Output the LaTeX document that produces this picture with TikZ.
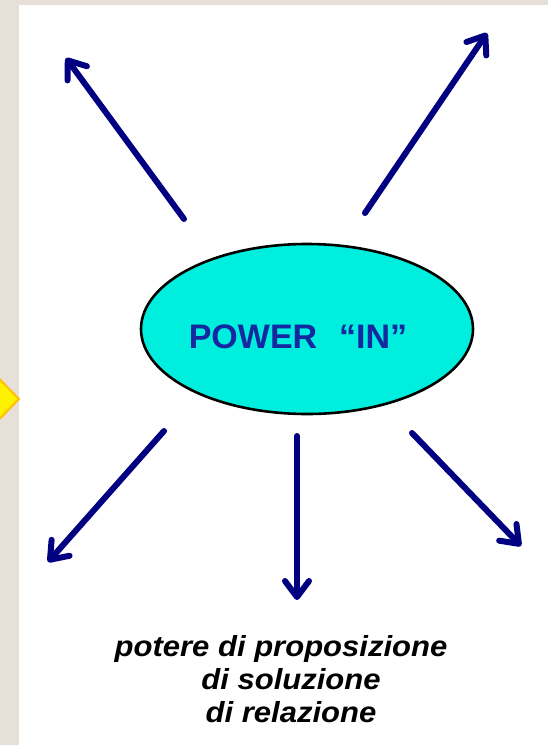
\documentclass[tikz,border=0pt]{standalone}
\usepackage{fontspec}
\setmainfont{Liberation Sans}
\newfontfamily\captionfont[FakeStretch=1.07]{Liberation Sans}
\usetikzlibrary{shapes.geometric,arrows.meta}
\definecolor{slidebg}{RGB}{230,224,216}
\definecolor{raynavy}{RGB}{0,0,128}
\definecolor{powercyan}{RGB}{0,238,221}
\definecolor{powerblue}{RGB}{20,40,160}
\definecolor{markorange}{RGB}{255,192,0}
\tikzset{
  ray/.style={draw=raynavy,line width=6pt,line cap=round,
    -{Straight Barb[length=16pt,width=24pt,line cap=round,line join=round]}},
}
\begin{document}
\begin{tikzpicture}[x=1pt,y=-1pt]
\useasboundingbox (0,0) rectangle (548,745);
% slide background
\fill[slidebg] (0,0) rectangle (548,745);
\fill[white] (19,5) rectangle (548,745);
\begin{scope}
\clip (0,0) rectangle (548,745);
\draw[fill=yellow,draw=markorange,line width=2pt] (-22,357) -- (19,399) -- (-22,441) -- cycle;
\end{scope}
% centre
\node (power) at (307,329) [ellipse,minimum width=332pt,minimum height=170pt,inner sep=0pt,draw,line width=2.6pt,fill=powercyan] {};
\node (powerlabel) at (298,337) [text=powerblue,font=\fontsize{34}{40}\selectfont\bfseries] {POWER\hspace{22pt}“IN”};
% rays
\coordinate (nw-start) at (184,219);
\coordinate (nw-tip) at (66,58);
\coordinate (ne-start) at (365,213);
\coordinate (ne-tip) at (487,33);
\coordinate (sw-start) at (164,431);
\coordinate (sw-tip) at (48,562);
\coordinate (s-start) at (297,436);
\coordinate (s-tip) at (297,600);
\coordinate (se-start) at (412,433);
\coordinate (se-tip) at (521,546);
\draw[ray] (nw-start) -- (nw-tip);
\draw[ray] (ne-start) -- (ne-tip);
\draw[ray] (sw-start) -- (sw-tip);
\draw[ray] (s-start) -- (s-tip);
\draw[ray] (se-start) -- (se-tip);
% caption
\node (caption) at (281,635.5) [anchor=north,inner sep=0pt,align=center,font=\captionfont\fontsize{29}{33}\selectfont\bfseries\itshape] {potere di proposizione\\\hspace*{20pt}di soluzione\\\hspace*{20pt}di relazione};
\end{tikzpicture}
\end{document}
